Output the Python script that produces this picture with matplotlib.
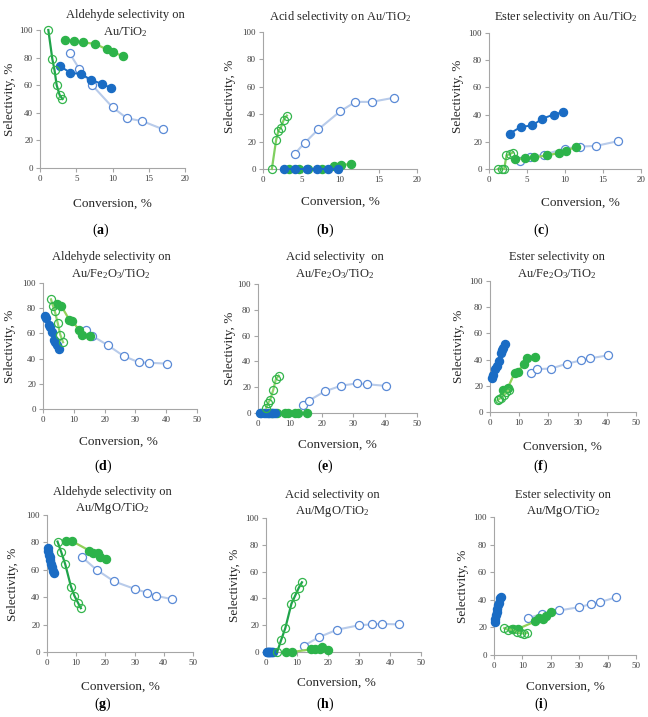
import matplotlib
matplotlib.use("Agg")
import matplotlib.pyplot as plt

plt.rcParams['font.family'] = ['Liberation Serif', 'DejaVu Serif']
plt.rcParams['mathtext.fontset'] = 'custom'
plt.rcParams['mathtext.rm'] = 'Liberation Serif'
plt.rcParams['mathtext.it'] = 'Liberation Serif:italic'
plt.rcParams['mathtext.bf'] = 'Liberation Serif:bold'

# ---------------- data ----------------
# Au/TiO2
ti_x_bf = [2.7, 4.2, 5.7, 7.0, 8.5, 9.8]
ti_ald_bf = [74, 69, 68, 64, 61, 58]
ti_acid_bf = [0, 0, 0, 0, 0, 0]
ti_est_bf = [26, 31, 32, 37, 40, 42]
ti_x_bo = [4.1, 5.4, 7.2, 10.0, 12.0, 14.1, 17.0]
ti_ald_bo = [83, 72, 60, 44, 36, 34, 28]
ti_acid_bo = [11, 19, 29, 42, 49, 49, 52]
ti_est_bo = [6, 9, 10.5, 15, 16.5, 17, 20.5]
ti_x_gf = [3.4, 4.7, 5.9, 7.6, 9.2, 10.1, 11.4]
ti_ald_gf = [93, 92, 91, 90, 86, 84, 81]
ti_acid_gf = [0, 0, 0, 0, 2.4, 3.2, 3.4]
ti_est_gf = [7, 8, 8.5, 10, 11.7, 13.6, 16]
ti_x_go = [1.15, 1.7, 2.0, 2.3, 2.7, 3.1]
ti_ald_go = [100, 79, 71, 60, 53, 50]
ti_acid_go = [0, 21, 28, 30, 36, 39]
ti_est_go = [0, 0, 0, 10, 11, 12]

# Au/Fe2O3/TiO2
fe_x_bf = [0.7, 1.0, 1.8, 2.4, 3.0, 3.6, 4.0, 4.6, 5.2]
fe_ald_bf = [74, 72, 67, 65, 61, 55, 53, 51, 48]
fe_acid_bf = [0, 0, 0, 0, 0, 0, 0, 0, 0]
fe_est_bf = [26, 28, 33, 35, 39, 45, 47, 49, 52]
fe_x_bo = [14.0, 16.0, 21.0, 26.2, 31.2, 34.3, 40.3]
fe_ald_bo = [63, 58, 50.7, 42, 37, 36.7, 36]
fe_acid_bo = [6, 9.6, 16.8, 21.2, 23, 22.3, 21]
fe_est_bo = [30, 32.7, 33.2, 36.8, 39.4, 41, 43.2]
fe_x_gf = [4.5, 6.0, 8.5, 9.5, 11.6, 12.5, 15.4]
fe_ald_gf = [83, 81.5, 71, 70, 63, 59, 58]
fe_acid_gf = [0, 0, 0, 0, 0, 0, 0]
fe_est_gf = [17, 18, 30, 30.5, 37, 41.5, 42]
fe_x_go = [2.6, 3.2, 3.8, 4.8, 5.6, 6.5]
fe_ald_go = [87, 82, 78, 68, 59, 53]
fe_acid_go = [4, 8, 10, 18, 26, 29]
fe_est_go = [9, 10, 11, 13, 15, 17]

# Au/MgO/TiO2
mg_x_bf = [0.2, 0.4, 0.6, 0.9, 1.1, 1.4, 1.7, 2.0, 2.3]
mg_ald_bf = [76, 74, 71, 69, 67, 64, 62, 59, 58]
mg_acid_bf = [0, 0, 0, 0, 0, 0, 0, 0, 0]
mg_est_bf = [24, 26, 29, 31, 33, 36, 38, 41, 42]
mg_x_bo = [12.1, 17.0, 23.0, 30.1, 34.1, 37.3, 42.8]
mg_ald_bo = [69, 60, 51.5, 46, 43.4, 41, 38.6]
mg_acid_bo = [4.5, 11, 16.7, 20, 20.6, 21, 20.6]
mg_est_bo = [26.7, 29.9, 32.3, 34.7, 36.9, 38.3, 41.7]
mg_x_gf = [6.6, 8.5, 14.5, 15.9, 17.3, 18.2, 20.1]
mg_ald_gf = [81, 81, 74, 72, 72, 69, 67.7]
mg_acid_gf = [0, 0, 2, 2, 2.5, 4, 1.5]
mg_est_gf = [19, 19, 24.3, 26.7, 26, 28, 30.8]
mg_x_go = [3.6, 4.9, 6.25, 8.2, 9.4, 10.6, 11.6]
mg_ald_go = [80.6, 72.8, 64, 47.8, 41, 36, 32]
mg_acid_go = [0, 9, 18, 36, 42, 48, 52]
mg_est_go = [19.5, 18.3, 18.5, 16.4, 16, 15.5, 16]

titles = [
    "Aldehyde selectivity on\nAu/TiO$_2$", "Acid selectivity on Au/TiO$_2$", "Ester selectivity on Au/TiO$_2$",
    "Aldehyde selectivity on\nAu/Fe$_2$O$_3$/TiO$_2$", "Acid selectivity  on\nAu/Fe$_2$O$_3$/TiO$_2$", "Ester selectivity on\nAu/Fe$_2$O$_3$/TiO$_2$",
    "Aldehyde selectivity on\nAu/MgO/TiO$_2$", "Acid selectivity on\nAu/MgO/TiO$_2$", "Ester selectivity on\nAu/MgO/TiO$_2$",
]
letters = ["a", "b", "c", "d", "e", "f", "g", "h", "i"]

panels = [
    (ti_x_bf, ti_ald_bf, ti_x_bo, ti_ald_bo, ti_x_gf, ti_ald_gf, ti_x_go, ti_ald_go),
    (ti_x_bf, ti_acid_bf, ti_x_bo, ti_acid_bo, ti_x_gf, ti_acid_gf, ti_x_go, ti_acid_go),
    (ti_x_bf, ti_est_bf, ti_x_bo, ti_est_bo, ti_x_gf, ti_est_gf, ti_x_go, ti_est_go),
    (fe_x_bf, fe_ald_bf, fe_x_bo, fe_ald_bo, fe_x_gf, fe_ald_gf, fe_x_go, fe_ald_go),
    (fe_x_bf, fe_acid_bf, fe_x_bo, fe_acid_bo, fe_x_gf, fe_acid_gf, fe_x_go, fe_acid_go),
    (fe_x_bf, fe_est_bf, fe_x_bo, fe_est_bo, fe_x_gf, fe_est_gf, fe_x_go, fe_est_go),
    (mg_x_bf, mg_ald_bf, mg_x_bo, mg_ald_bo, mg_x_gf, mg_ald_gf, mg_x_go, mg_ald_go),
    (mg_x_bf, mg_acid_bf, mg_x_bo, mg_acid_bo, mg_x_gf, mg_acid_gf, mg_x_go, mg_acid_go),
    (mg_x_bf, mg_est_bf, mg_x_bo, mg_est_bo, mg_x_gf, mg_est_gf, mg_x_go, mg_est_go),
]

# ---------------- layout (pixels) ----------------
W, H = 648, 717
boxes = [  # left, right, top, bottom
    (40, 185, 30, 168), (263, 417, 32, 169), (489, 641, 33, 169),
    (43, 197, 283, 409), (258, 417, 284, 413), (490, 636, 281, 412),
    (47, 193, 515, 652), (266, 421, 518, 652), (494, 636, 517, 655),
]
xmax = [20, 20, 20, 50, 50, 50, 50, 50, 50]
title_pos = [(125, 24), (340, 17), (566, 17), (111, 266), (335, 266), (557, 266), (112, 501), (332, 504), (563, 504)]
xlabel_pos = [(112, 204), (340, 202), (580, 203), (118, 442), (337, 445), (562, 447), (120, 687), (336, 683), (565, 687)]
ylabel_pos = [(10, 99), (230, 96), (458, 96), (10, 346), (230, 348), (459, 346), (13, 584), (235, 585), (463, 586)]
letter_pos = [(101, 230), (325, 230), (541, 230), (103, 466), (325, 466), (541, 466), (103, 704), (325, 704), (541, 704)]
go_line = ['#1fa34a', '#7fcf5f', '#7fcf5f', '#8fd46a', '#8fd46a', '#8fd46a', '#1fa34a', '#1fa34a', '#8fd46a']

c_bf = '#1a6cc4'
c_bo_edge = '#5a8ad6'
c_bo_line = '#b8cbea'
c_gf = '#2db34a'
c_gf_line = '#93d158'
c_go_edge = '#33b54c'

fig = plt.figure(figsize=(W / 100, H / 100), dpi=100)
ms = 5.8
for k, (l, r, t, b) in enumerate(boxes):
    ax = fig.add_axes([l / W, 1 - b / H, (r - l) / W, (b - t) / H])
    xbf, ybf, xbo, ybo, xgf, ygf, xgo, ygo = panels[k]
    ax.plot(xbo, ybo, '-', color=c_bo_line, lw=1.5, zorder=2, clip_on=False)
    ax.plot(xbo, ybo, 'o', mfc='white', mec=c_bo_edge, mew=0.9, ms=ms, zorder=3, clip_on=False)
    ax.plot(xgf, ygf, '-', color=c_gf_line, lw=1.6, zorder=4, clip_on=False)
    ax.plot(xgf, ygf, 'o', mfc=c_gf, mec=c_gf, ms=ms, zorder=5, clip_on=False)
    ax.plot(xbf, ybf, '-', color=c_bf, lw=1.4, zorder=6, clip_on=False)
    ax.plot(xbf, ybf, 'o', mfc=c_bf, mec=c_bf, ms=ms, zorder=7, clip_on=False)
    ax.plot(xgo, ygo, '-', color=go_line[k], lw=1.6, zorder=8, clip_on=False)
    ax.plot(xgo, ygo, 'o', mfc='none', mec=c_go_edge, mew=0.9, ms=ms, zorder=9, clip_on=False)

    ax.set_xlim(0, xmax[k])
    ax.set_ylim(0, 100)
    step = 5 if xmax[k] == 20 else 10
    ax.set_xticks(list(range(0, xmax[k] + 1, step)))
    ax.set_yticks(list(range(0, 101, 20)))
    for s in ['top', 'right']:
        ax.spines[s].set_visible(False)
    for s in ['left', 'bottom']:
        ax.spines[s].set_color('#a6a6a6')
        ax.spines[s].set_linewidth(0.8)
    ax.tick_params(direction='out', length=3, width=0.8, color='#a6a6a6',
                   labelsize=6.5, labelcolor='#404040', pad=2)
    ax.patch.set_alpha(0)

    tx, ty = title_pos[k]
    fig.text(tx / W, 1 - ty / H, titles[k], ha='center', va='center', fontsize=9.0,
             color='#262626', linespacing=1.35)
    xx, xy = xlabel_pos[k]
    fig.text(xx / W, 1 - xy / H, "Conversion, %", ha='center', va='center', fontsize=9.5, color='#262626')
    yx, yy = ylabel_pos[k]
    fig.text(yx / W, 1 - yy / H, "Selectivity, %", ha='center', va='center', rotation=90,
             fontsize=9.5, color='#262626')
    lx, ly = letter_pos[k]
    fig.text(lx / W, 1 - ly / H, "($\\mathbf{%s}$)" % letters[k], ha='center', va='center',
             fontsize=10, color='black')

fig.savefig("out.png", dpi=100)
